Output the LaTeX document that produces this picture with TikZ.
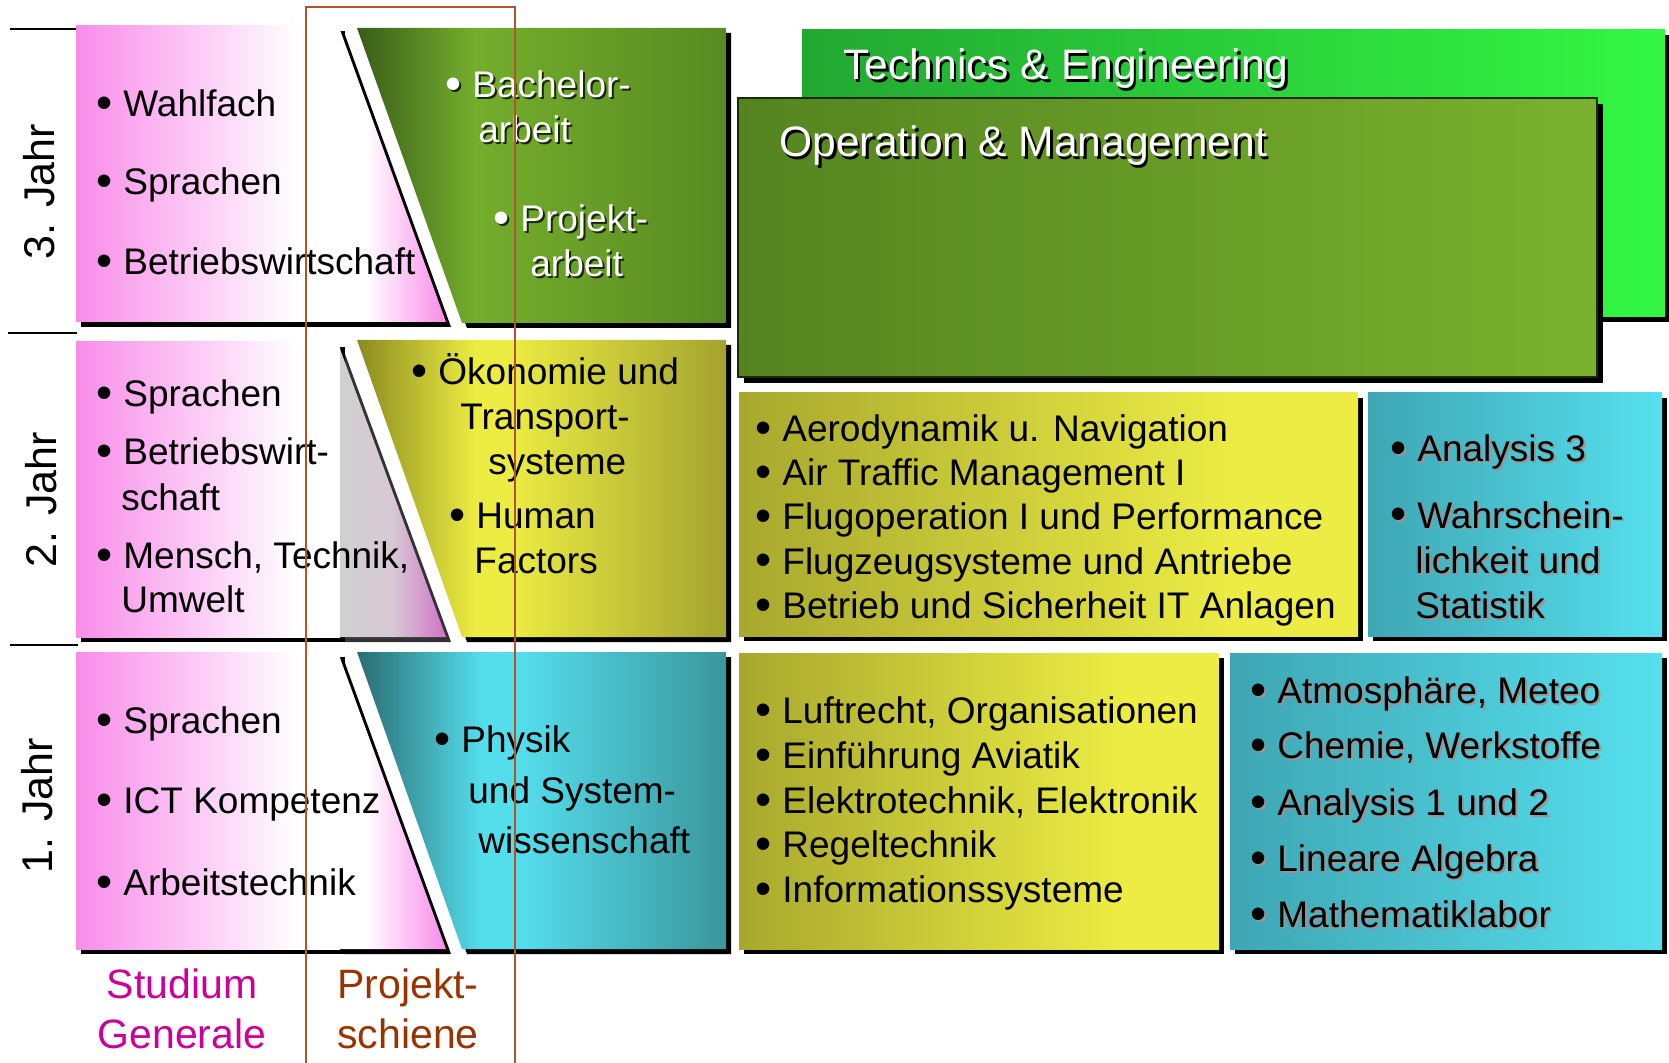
\documentclass[tikz,border=0pt]{standalone}
\usepackage{fontspec}
\setmainfont{Liberation Sans}
\definecolor{pk}{RGB}{249,140,234}
\definecolor{grayT}{RGB}{208,208,208}
\definecolor{grayM}{RGB}{216,200,212}
\definecolor{orchT}{RGB}{208,116,200}
\definecolor{gA}{RGB}{58,92,26}
\definecolor{gB}{RGB}{116,174,44}
\definecolor{gC}{RGB}{88,138,34}
\definecolor{yA}{RGB}{138,138,32}
\definecolor{yB}{RGB}{236,236,66}
\definecolor{yC}{RGB}{163,163,48}
\definecolor{cA}{RGB}{42,108,114}
\definecolor{cB}{RGB}{84,222,236}
\definecolor{cC}{RGB}{58,150,156}
\definecolor{ryA}{RGB}{168,168,46}
\definecolor{ryB}{RGB}{236,236,68}
\definecolor{rcA}{RGB}{62,166,180}
\definecolor{rcB}{RGB}{86,224,238}
\definecolor{tA}{RGB}{34,168,50}
\definecolor{tB}{RGB}{51,247,67}
\definecolor{oA}{RGB}{84,132,32}
\definecolor{oB}{RGB}{122,178,46}
\definecolor{oBorder}{RGB}{27,42,12}
\definecolor{mag}{RGB}{204,0,153}
\definecolor{brn}{RGB}{153,51,0}
\definecolor{rail}{RGB}{176,84,44}
\definecolor{gshadow}{RGB}{24,40,10}
\definecolor{cshadow}{RGB}{150,150,150}
\definecolor{dshadow}{RGB}{51,51,51}
\pgfdeclarehorizontalshading{shGrn}{100bp}{color(0bp)=(gA); color(25bp)=(gA); color(41bp)=(gB); color(75bp)=(gC); color(100bp)=(gC)}
\pgfdeclarehorizontalshading{shYel}{100bp}{color(0bp)=(yA); color(25bp)=(yA); color(41bp)=(yB); color(46bp)=(yB); color(75bp)=(yC); color(100bp)=(yC)}
\pgfdeclarehorizontalshading{shCya}{100bp}{color(0bp)=(cA); color(25bp)=(cA); color(42bp)=(cB); color(47bp)=(cB); color(75bp)=(cC); color(100bp)=(cC)}
\pgfdeclarehorizontalshading{shPinkR}{100bp}{color(0bp)=(pk); color(25bp)=(pk); color(67bp)=(white); color(100bp)=(white)}
\pgfdeclarehorizontalshading{shPinkT}{100bp}{color(0bp)=(white); color(25bp)=(white); color(37bp)=(white); color(75bp)=(pk); color(100bp)=(pk)}
\pgfdeclarehorizontalshading{shGrayT}{100bp}{color(0bp)=(grayT); color(25bp)=(grayT); color(50bp)=(grayM); color(75bp)=(orchT); color(100bp)=(orchT)}
\pgfdeclarehorizontalshading{shRY}{100bp}{color(0bp)=(ryA); color(25bp)=(ryA); color(65bp)=(ryB); color(100bp)=(ryB)}
\pgfdeclarehorizontalshading{shRC}{100bp}{color(0bp)=(rcA); color(25bp)=(rcA); color(75bp)=(rcB); color(100bp)=(rcB)}
\pgfdeclarehorizontalshading{shTech}{100bp}{color(0bp)=(tA); color(25bp)=(tA); color(75bp)=(tB); color(100bp)=(tB)}
\pgfdeclarehorizontalshading{shOper}{100bp}{color(0bp)=(oA); color(25bp)=(oA); color(75bp)=(oB); color(100bp)=(oB)}
\newcommand\fs{\fontsize{18.5}{22}\selectfont}
\newcommand\fyear{\fontsize{21.5}{26}\selectfont}
\newcommand\ftitle{\fontsize{21.3}{26}\selectfont}
\newcommand\fbottom{\fontsize{20.5}{25}\selectfont}
\newcommand\bul{\llap{\smash{\raisebox{-1.0pt}{\fontsize{23}{22}\selectfont•}}\hspace{5.5pt}}}
\newcommand\TxLine[4]{\node[txt] (#1) at (#2,#3) {#4};}
\newcommand\TxBul[4]{\node[txt] (#1) at (#2,#3) {\bul#4};}
\newcommand\ShLine[6]{\node[txt,text=#5] at (#2+2,#3+2) {#4};\node[txt,text=#6] (#1) at (#2,#3) {#4};}
\newcommand\ShBul[6]{\node[txt,text=#5] at (#2+2,#3+2) {\bul#4};\node[txt,text=#6] (#1) at (#2,#3) {\bul#4};}
\newcommand\LeftUnit[5]{%
  \fill[black] (81,#1+5) rectangle (345,#2+5);
  \fill[#5] (345,#3+5) -- (451,#2+5) -- (345,#2+5) -- cycle;
  \shade[shading=shPinkR] (76,#1) rectangle (340,#2);
  \shade[shading=#4] (340,#3) -- (446,#2) -- (340,#2) -- cycle;}
\newcommand\Trap[3]{%
  \fill[black] (362,#1+5) -- (731,#1+5) -- (731,#2+5) -- (467,#2+5) -- cycle;
  \shade[shading=#3] (357,#1) -- (726,#1) -- (726,#2) -- (462,#2) -- cycle;}
\newcommand\RBox[6]{%
  \fill[black] (#1+#6,#2+#6) rectangle (#3+#6,#4+#6);
  \shade[shading=#5] (#1,#2) rectangle (#3,#4);}
\begin{document}
\begin{tikzpicture}[x=0.5pt,y=-0.5pt,
  txt/.style={inner sep=0pt,anchor=base west,font=\fs},
  yearlbl/.style={inner sep=0pt,rotate=90,font=\fyear},
  bottomlbl/.style={inner sep=0pt,anchor=base,font=\fbottom},
  titlelbl/.style={inner sep=0pt,anchor=base west,font=\ftitle}]
\useasboundingbox (0,0) rectangle (1669,1063);
% year separators
\draw[line width=1pt] (10,29) -- (78,29);
\draw[line width=1pt] (8,333) -- (77,333);
\draw[line width=1pt] (10,645) -- (78,645);
\node[yearlbl] (y3) at (39,192) {3. Jahr};
\node[yearlbl] (y2) at (41,500) {2. Jahr};
\node[yearlbl] (y1) at (37,806) {1. Jahr};
% left units
\LeftUnit{26}{322}{30}{shPinkT}{black}
\LeftUnit{342}{637}{349}{shGrayT}{dshadow}
\LeftUnit{652}{949}{658}{shPinkT}{black}
% trapezoids
\Trap{28}{323}{shGrn}
\Trap{340}{637}{shYel}
\Trap{652}{949}{shCya}
% right boxes
\RBox{802}{30}{1665}{317}{shTech}{5}
\fill[black] (744,104) rectangle (1603,383);
\shade[shading=shOper,draw=oBorder,line width=0.75pt] (738,98) rectangle (1597,377);
\RBox{739}{393}{1358}{636}{shRY}{5}
\RBox{1368}{393}{1662}{636}{shRC}{5}
\RBox{739}{653}{1219}{949}{shRY}{5}
\RBox{1230}{653}{1662}{949}{shRC}{5}
% titles
\node[titlelbl,text=black] at (845.5,82.5) {Technics \& Engineering};
\node[titlelbl,text=white] (tech) at (843,80) {Technics \& Engineering};
\node[titlelbl,text=black] at (781.5,159.5) {Operation \& Management};
\node[titlelbl,text=white] (oper) at (779,157) {Operation \& Management};
% left column texts
\TxBul{l31}{123}{117}{Wahlfach}
\TxBul{l32}{123}{195}{Sprachen}
\TxBul{l33}{123}{275}{Betriebswirtschaft}
\TxBul{l21}{123}{407}{Sprachen}
\TxBul{l22}{123}{465}{Betriebswirt-}
\TxLine{l23}{121}{510}{schaft}
\TxBul{l24}{123}{568}{Mensch, Technik,}
\TxLine{l25}{121}{612}{Umwelt}
\TxBul{l11}{123}{733}{Sprachen}
\TxBul{l12}{123}{813}{ICT Kompetenz}
\TxBul{l13}{123}{895}{Arbeitstechnik}
% green trapezoid
\ShBul{g1}{472}{98}{Bachelor-}{gshadow}{white}
\ShLine{g2}{478}{143}{arbeit}{gshadow}{white}
\ShBul{g3}{520}{232}{Projekt-}{gshadow}{white}
\ShLine{g4}{530}{277}{arbeit}{gshadow}{white}
% yellow trapezoid
\TxBul{yt1}{438}{385}{Ökonomie und}
\TxLine{yt2}{460}{430}{Transport-}
\TxLine{yt3}{488}{474}{systeme}
\TxBul{yt4}{476}{529}{Human}
\TxLine{yt5}{474}{573}{Factors}
% cyan trapezoid
\TxBul{ct1}{461}{752}{Physik}
\TxLine{ct2}{468}{803}{und System-}
\TxLine{ct3}{478}{853}{wissenschaft}
% right yellow row 2
\TxBul{ry21}{782}{442}{Aerodynamik u. Navigation}
\TxBul{ry22}{782}{486}{Air Traffic Management I}
\TxBul{ry23}{782}{530}{Flugoperation I und Performance}
\TxBul{ry24}{782}{574}{Flugzeugsysteme und Antriebe}
\TxBul{ry25}{782}{618}{Betrieb und Sicherheit IT Anlagen}
% right cyan row 2
\ShBul{rc21}{1417}{462}{Analysis 3}{cshadow}{black}
\ShBul{rc22}{1417}{528}{Wahrschein-}{cshadow}{black}
\ShLine{rc23}{1415}{573}{lichkeit und}{cshadow}{black}
\ShLine{rc24}{1415}{618}{Statistik}{cshadow}{black}
% right yellow row 1
\TxBul{ry11}{782}{723}{Luftrecht, Organisationen}
\TxBul{ry12}{782}{768}{Einführung Aviatik}
\TxBul{ry13}{782}{813}{Elektrotechnik, Elektronik}
\TxBul{ry14}{782}{857}{Regeltechnik}
\TxBul{ry15}{782}{902}{Informationssysteme}
% right cyan row 1
\ShBul{rc11}{1277}{703}{Atmosphäre, Meteo}{cshadow}{black}
\ShBul{rc12}{1277}{758}{Chemie, Werkstoffe}{cshadow}{black}
\ShBul{rc13}{1277}{815}{Analysis 1 und 2}{cshadow}{black}
\ShBul{rc14}{1277}{871}{Lineare Algebra}{cshadow}{black}
\ShBul{rc15}{1277}{927}{Mathematiklabor}{cshadow}{black}
% bottom labels
\node[bottomlbl,text=mag] (sg1) at (182,998) {Studium};
\node[bottomlbl,text=mag] (sg2) at (182,1048) {Generale};
\node[bottomlbl,text=brn] (ps1) at (408,998) {Projekt-};
\node[bottomlbl,text=brn] (ps2) at (408,1048) {schiene};
% Projektschiene frame
\draw[rail,line width=1.2pt] (306,1063) -- (306,7) -- (515,7) -- (515,1063);
\end{tikzpicture}
\end{document}
